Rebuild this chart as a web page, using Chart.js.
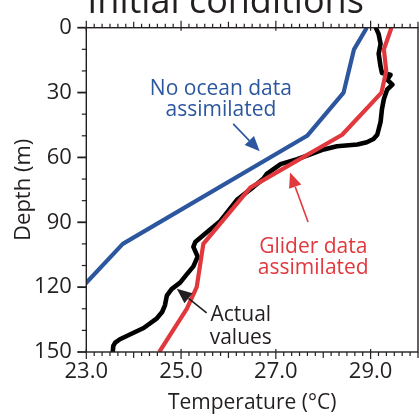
<!DOCTYPE html>
<html><head><meta charset="utf-8">
<script src="https://cdn.jsdelivr.net/npm/chart.js@4"></script>
<style>html,body{margin:0;padding:0;background:#fff;overflow:hidden}canvas{display:block}</style>
</head><body>
<canvas id="c" width="419" height="417"></canvas>
<script>
// ---- data (temperature °C vs depth m) ----
const xTickValues = [23, 25, 27, 29];
const yTickValues = [0, 30, 60, 90, 120, 150];

const noOceanDepth = [0, 10, 30, 50, 100, 118, 150];
const noOceanTemp  = [28.92, 28.65, 28.43, 27.66, 23.77, 23.0, 21.6];

const gliderDepth = [0, 10, 20, 30, 49.5, 74, 100, 120, 130, 140, 150];
const gliderTemp  = [29.44, 29.28, 29.33, 29.23, 28.40, 26.46, 25.47, 25.33, 25.12, 24.83, 24.54];

const actualDepth = [0, 3, 7.5, 12, 18, 21, 21.8, 24, 26.3, 28.6, 33, 37.6, 43.6, 49.5, 51.5, 53, 54, 54.8, 56.3, 58.6, 60.8, 63.1, 67.6, 69.8, 73.6, 79.6, 89.4, 95.4, 99.1, 101.4, 105.9, 110.4, 114.1, 117.9, 120.9, 123.9, 128.4, 131.5, 134.4, 138.9, 141.9, 144.1, 145.7, 147.2, 149.5];
const actualTemp  = [29.11, 29.17, 29.21, 29.17, 29.21, 29.24, 29.42, 29.35, 29.46, 29.35, 29.28, 29.24, 29.21, 29.14, 29.06, 28.92, 28.72, 28.29, 28.01, 27.73, 27.45, 27.1, 26.81, 26.74, 26.53, 26.18, 25.83, 25.5, 25.3, 25.26, 25.35, 25.26, 25.12, 24.98, 24.8, 24.70, 24.66, 24.6, 24.49, 24.21, 23.92, 23.71, 23.61, 23.57, 23.56];

const titleText = 'Initial conditions';
const xTitle = 'Temperature (°C)';
const yTitle = 'Depth (m)';

const FONT = "'Open Sans', 'Noto Sans', sans-serif";
const INK = '#231f20';
const BLUE = '#2c579f';
const RED = '#e1383d';

const toPts = (ts, ds) => ts.map((t, i) => ({x: t, y: ds[i]}));

// annotations anchored in data units (temperature, depth)
const notes = [
  {lines: ['No ocean data', 'assimilated'], color: BLUE, t: 25.84, d: [31.2, 41.0],
   arrow: {from: [26.10, 44.5], to: [26.66, 57.2]}},
  {lines: ['Glider data', 'assimilated'], color: RED, t: 27.79, d: [104.3, 114.1],
   arrow: {from: [27.68, 89.9], to: [27.30, 67.0]}},
  {lines: ['Actual', 'values'], color: INK, t: 26.26, d: [135.7, 146.4],
   arrow: {from: [25.54, 131.9], to: [24.91, 120.8]}}
];

const decor = {
  id: 'decor',
  afterDatasetsDraw(chart) {
    const {ctx, chartArea: a, scales: {x, y}} = chart;
    ctx.save();
    // frame
    ctx.strokeStyle = INK; ctx.lineWidth = 1.4;
    ctx.strokeRect(a.left, a.top, a.right - a.left, a.bottom - a.top);
    // x ticks (bottom and top)
    ctx.lineWidth = 1.2;
    for (let k = 0; k <= 42; k++) {
      const v = 23 + k / 6;
      const p = x.getPixelForValue(v);
      const isLab = xTickValues.some(t => Math.abs(t - v) < 1e-6);
      const isInt = k % 6 === 0;
      let out = 4, inn = 0;
      if (isLab) { out = 7; inn = 3; } else if (isInt) { out = 6; }
      ctx.beginPath();
      ctx.moveTo(p, a.bottom - inn); ctx.lineTo(p, a.bottom + out);
      ctx.moveTo(p, a.top + inn); ctx.lineTo(p, a.top - out);
      ctx.stroke();
    }
    // y ticks (left)
    for (let dv = 0; dv <= 150; dv += 10) {
      const p = y.getPixelForValue(dv);
      const major = yTickValues.includes(dv);
      ctx.lineWidth = major ? 1.8 : 1.2;
      ctx.beginPath();
      ctx.moveTo(a.left, p); ctx.lineTo(a.left - (major ? 9 : 4.5), p);
      ctx.stroke();
    }
    // title (partly above the canvas)
    ctx.fillStyle = INK;
    ctx.font = '36px ' + FONT;
    ctx.textAlign = 'left'; ctx.textBaseline = 'alphabetic';
    ctx.fillText(titleText, a.left + 1, 13);
    // annotations
    ctx.font = '21px ' + FONT;
    ctx.textAlign = 'center';
    notes.forEach(n => {
      ctx.fillStyle = n.color;
      n.lines.forEach((s, i) => ctx.fillText(s, x.getPixelForValue(n.t), y.getPixelForValue(n.d[i])));
      const x0 = x.getPixelForValue(n.arrow.from[0]), y0 = y.getPixelForValue(n.arrow.from[1]);
      const x1 = x.getPixelForValue(n.arrow.to[0]), y1 = y.getPixelForValue(n.arrow.to[1]);
      const ang = Math.atan2(y1 - y0, x1 - x0);
      const L = 15, W = 6.5;
      const bx = x1 - L * Math.cos(ang), by = y1 - L * Math.sin(ang);
      ctx.strokeStyle = n.color; ctx.lineWidth = 1.6;
      ctx.beginPath(); ctx.moveTo(x0, y0); ctx.lineTo(bx, by); ctx.stroke();
      ctx.beginPath();
      ctx.moveTo(x1, y1);
      ctx.lineTo(bx + W * Math.sin(ang), by - W * Math.cos(ang));
      ctx.lineTo(bx - W * Math.sin(ang), by + W * Math.cos(ang));
      ctx.closePath(); ctx.fill();
    });
    ctx.restore();
  }
};

new Chart(document.getElementById('c'), {
  type: 'scatter',
  data: {
    datasets: [
      {label: 'Glider data assimilated', data: toPts(gliderTemp, gliderDepth), showLine: true,
       borderColor: RED, borderWidth: 4.2, pointRadius: 0, order: 0, borderJoinStyle: 'round'},
      {label: 'Actual values', data: toPts(actualTemp, actualDepth), showLine: true,
       borderColor: '#000', borderWidth: 4.6, pointRadius: 0, order: 1,
       borderJoinStyle: 'round', borderCapStyle: 'round', tension: 0},
      {label: 'No ocean data assimilated', data: toPts(noOceanTemp, noOceanDepth), showLine: true,
       borderColor: BLUE, borderWidth: 4.2, pointRadius: 0, order: 2, borderJoinStyle: 'round'}
    ]
  },
  options: {
    responsive: false, animation: false, devicePixelRatio: 1,
    layout: {padding: {left: 0, right: 1, top: 17.5, bottom: 0}},
    plugins: {legend: {display: false}, tooltip: {enabled: false}, title: {display: false}},
    scales: {
      x: {
        type: 'linear', position: 'bottom', min: 23, max: 30,
        afterFit: s => { s.height = 65; },
        afterBuildTicks: s => { s.ticks = xTickValues.map(v => ({value: v})); },
        grid: {display: false, drawTicks: false}, border: {display: false},
        ticks: {callback: v => v.toFixed(1), font: {family: FONT, size: 22}, color: INK,
                padding: 7, maxRotation: 0, autoSkip: false},
        title: {display: true, text: xTitle, font: {family: FONT, size: 21}, color: INK,
                padding: {top: 0, bottom: 1}}
      },
      y: {
        type: 'linear', position: 'left', min: 0, max: 150, reverse: true,
        afterFit: s => { s.width = 86.3; },
        afterBuildTicks: s => { s.ticks = yTickValues.map(v => ({value: v})); },
        grid: {display: false, drawTicks: false}, border: {display: false},
        ticks: {font: {family: FONT, size: 22}, color: INK, padding: 14.5, autoSkip: false},
        title: {display: true, text: yTitle, font: {family: FONT, size: 22}, color: INK,
                padding: {top: 11, bottom: 0}}
      }
    }
  },
  plugins: [decor]
});
</script>
</body></html>
